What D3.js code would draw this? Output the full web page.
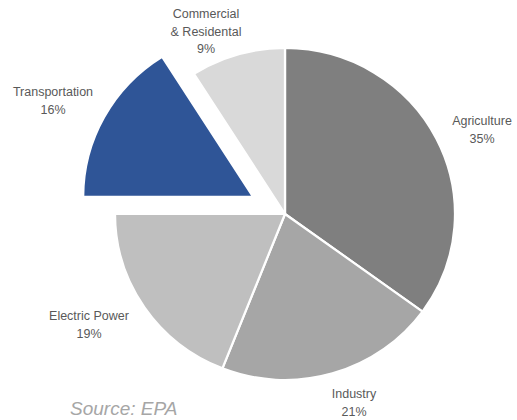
<!DOCTYPE html>
<html>
<head>
<meta charset="utf-8">
<script src="https://cdn.jsdelivr.net/npm/d3@7"></script>
<style>
  html, body { margin: 0; padding: 0; background: #ffffff; }
  svg { display: block; }
  text { font-family: "Liberation Sans", Arial, sans-serif; }
</style>
</head>
<body>
<svg id="chart" width="517" height="420"></svg>
<script>
// Greenhouse gas emissions by economic sector (%)
const sectors = ["Agriculture", "Industry", "Electric Power", "Transportation", "Commercial & Residental"];
const shares = [35, 21, 19, 16, 9];
const labelLines = [
  ["Agriculture"],
  ["Industry"],
  ["Electric Power"],
  ["Transportation"],
  ["Commercial", "& Residental"]
];
const exploded = ["Transportation"];
const sourceNote = "Source: EPA";

// Styling / layout
const fills = {
  "Agriculture": "#7f7f7f",
  "Industry": "#a6a6a6",
  "Electric Power": "#bfbfbf",
  "Transportation": "#2f5597",
  "Commercial & Residental": "#d9d9d9"
};
const cx = 285, cy = 214, radius = 166, xStretch = 1.024, explodeDist = 35.5;
// label anchor (centre of first line's baseline) for each sector
const labelAnchor = {
  "Agriculture": [482, 125],
  "Industry": [354, 398],
  "Electric Power": [89, 320],
  "Transportation": [53, 96],
  "Commercial & Residental": [206, 18]
};
const lineGap = 17.5;

const svg = d3.select("#chart");

const data = sectors.map((s, i) => ({ name: s, value: shares[i], lines: labelLines[i] }));

const pie = d3.pie().sort(null).value(d => d.value).startAngle(0).endAngle(2 * Math.PI);
const arc = d3.arc().innerRadius(0).outerRadius(radius);

const g = svg.append("g")
  .attr("transform", `translate(${cx},${cy}) scale(${xStretch},1)`);

g.selectAll("path.slice")
  .data(pie(data))
  .join("path")
  .attr("class", "slice")
  .attr("d", arc)
  .attr("fill", d => fills[d.data.name])
  .attr("stroke", "#ffffff")
  .attr("stroke-width", 2.2)
  .attr("stroke-linejoin", "round")
  .attr("transform", d => {
    if (!exploded.includes(d.data.name)) return null;
    const a = (d.startAngle + d.endAngle) / 2;
    return `translate(${Math.sin(a) * explodeDist},${-Math.cos(a) * explodeDist})`;
  });

// category labels with percentage
const labels = svg.selectAll("text.label")
  .data(pie(data))
  .join("text")
  .attr("class", "label")
  .attr("text-anchor", "middle")
  .attr("font-size", 12.5)
  .attr("fill", "#595959")
  .attr("x", d => labelAnchor[d.data.name][0])
  .attr("y", d => labelAnchor[d.data.name][1]);

labels.each(function(d) {
  const t = d3.select(this);
  const [x] = labelAnchor[d.data.name];
  const rows = d.data.lines.concat([d3.format(".0f")(d.data.value) + "%"]);
  rows.forEach((r, i) => {
    t.append("tspan")
      .attr("x", x)
      .attr("dy", i === 0 ? 0 : lineGap)
      .text(r);
  });
});

svg.append("text")
  .attr("x", 70)
  .attr("y", 415)
  .attr("font-size", 19)
  .attr("font-style", "italic")
  .attr("fill", "#a6a6a6")
  .text(sourceNote);
</script>
</body>
</html>
